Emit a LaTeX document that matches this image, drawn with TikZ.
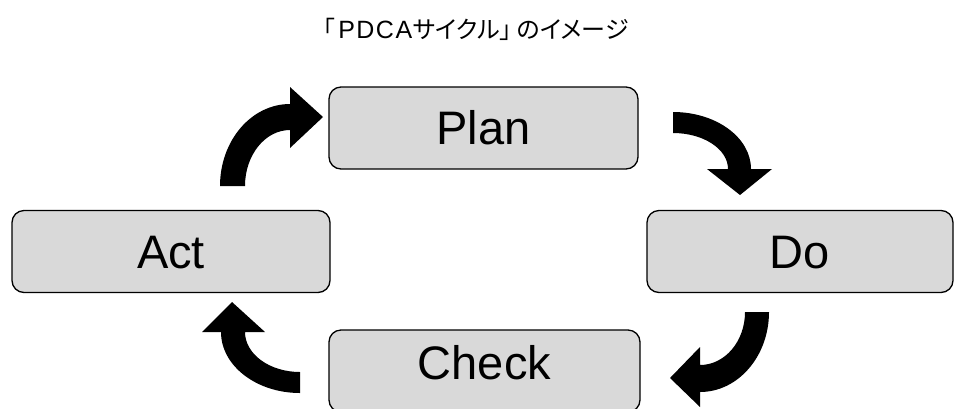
\documentclass[tikz,border=0pt]{standalone}
\usepackage{fontspec}
\setmainfont{Liberation Sans}
\newfontfamily\jpfont[RawFeature=+palt]{Noto Sans CJK JP}
\newfontfamily\latinfont{Liberation Sans}
\definecolor{boxgray}{HTML}{D9D9D9}
\tikzset{
  stage/.style={draw=black, line width=1.3pt, fill=boxgray, rounded corners=12pt,
    minimum height=82pt, inner sep=0pt, text height=33.5pt, text depth=0pt,
    font=\fontsize{47}{47}\selectfont},
  stagetext/.style={inner sep=0pt, text height=33.5pt, text depth=0pt,
    font=\fontsize{47}{47}\selectfont},
  cyclearrow/.style={fill=black, draw=none},
  heading/.style={font=\jpfont\fontsize{24}{24}\selectfont}
}
\newcommand\spacedPDCA{{\latinfont\fontsize{25}{25}\selectfont P\kern1.5pt D\kern1.5pt C\kern1.5pt A}}
\begin{document}
\begin{tikzpicture}[x=1pt,y=-1pt]
  \useasboundingbox (0,0) rectangle (955,408);

  % title
  \node[heading] (title) at (476,29) {「\kern3pt\spacedPDCA\kern1ptサイクル」\kern5ptのイメージ};

  % the four stages
  \node[stage, minimum width=309pt] (plan)  at (483.5,128)   {Plan};
  \node[stage, minimum width=306pt] (do)    at (800,251.5)   {Do};
  \node[stage, minimum width=311pt] (check) at (484.5,371)   {};
  \node[stagetext] (checktext) at (484.5,362.5) {Check};
  \node[stage, minimum width=318pt] (act)   at (171,251.5)   {Act};

  % Act -> Plan
  \fill[cyclearrow] (220,186) .. controls (220,140.7) and (251.3,104) .. (290,104)
    -- (290,87) -- (323,117) -- (290,148) -- (290,130)
    .. controls (265.1,130) and (245,155.1) .. (245,186) -- cycle;

  % Plan -> Do
  \fill[cyclearrow] (673,112) .. controls (716.1,112) and (751,137.5) .. (751,169)
    -- (772,169) -- (740,195) -- (707,169) -- (728,169)
    .. controls (728,149.1) and (703.4,133) .. (673,133) -- cycle;

  % Do -> Check
  \fill[cyclearrow] (769,312) .. controls (769,356.2) and (738.1,392) .. (700,392)
    -- (700,407) -- (670,378) -- (700,347) -- (700,365)
    .. controls (724.9,365) and (745,341.3) .. (745,312) -- cycle;

  % Check -> Act
  \fill[cyclearrow] (300,393) .. controls (256.4,393) and (221,365.7) .. (221,332)
    -- (202,332) -- (232,302) -- (265,332) -- (245,332)
    .. controls (245,354.1) and (269.6,372) .. (300,372) -- cycle;
\end{tikzpicture}
\end{document}
